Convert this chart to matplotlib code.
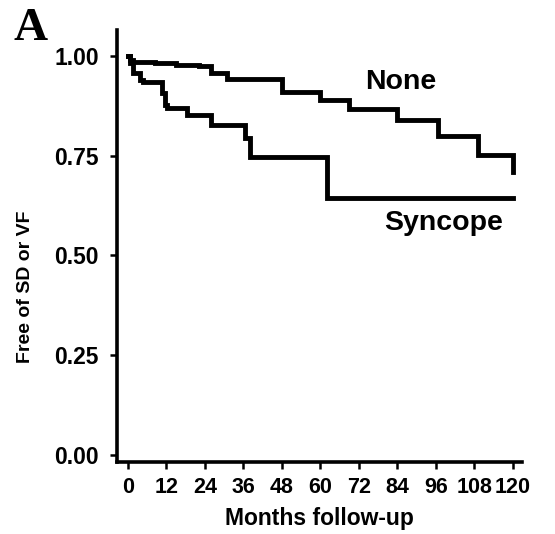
import numpy as np
import matplotlib
matplotlib.use("Agg")
import matplotlib.pyplot as plt

plt.rcParams['font.family'] = ['Liberation Sans', 'DejaVu Sans']
plt.rcParams['font.weight'] = 'bold'

# Kaplan-Meier steps (months, survival)
none_t = [0, 0.6, 1.6, 8.5, 15, 22, 26, 31, 48, 60, 69, 84, 96.5, 109, 120]
none_s = [1.0, 0.99, 0.985, 0.982, 0.977, 0.975, 0.957, 0.942, 0.910, 0.890, 0.867, 0.840, 0.800, 0.752, 0.709]

sync_t = [0, 0.6, 1.6, 3.7, 4.7, 10.6, 11.6, 12.2, 18.4, 26, 36.6, 38, 62, 120]
sync_s = [1.0, 0.982, 0.957, 0.94, 0.935, 0.907, 0.877, 0.870, 0.852, 0.827, 0.794, 0.747, 0.644, 0.644]

xticks = [0, 12, 24, 36, 48, 60, 72, 84, 96, 108, 120]
yticks = [0.00, 0.25, 0.50, 0.75, 1.00]

fig = plt.figure(figsize=(5.55, 5.34), dpi=100)
ax = fig.add_axes([0.2108, 0.1348, 0.7297, 0.809])

ax.step(none_t, none_s, where='post', color='black', lw=3.5, solid_joinstyle='miter')
ax.step(sync_t, sync_s, where='post', color='black', lw=3.5, solid_joinstyle='miter')

ax.text(85, 0.935, 'None', fontsize=20.5, fontweight='bold', ha='center', va='center')
ax.text(98.4, 0.581, 'Syncope', fontsize=20.5, fontweight='bold', ha='center', va='center')

ax.set_xlim(-3.4, 122.8)
ax.set_ylim(-0.018, 1.065)
ax.set_xticks(xticks)
ax.set_xticklabels([str(v) for v in xticks])
ax.set_yticks(yticks)
ax.set_yticklabels(['%.2f' % v for v in yticks])

for s in ['top', 'right']:
    ax.spines[s].set_visible(False)
for s in ['left', 'bottom']:
    ax.spines[s].set_linewidth(2.6)
ax.tick_params(direction='out', length=5, width=1.8, pad=6)
ax.tick_params(axis='x', labelsize=15.5)
ax.tick_params(axis='y', labelsize=16.5, pad=8)
for lab in ax.get_xticklabels() + ax.get_yticklabels():
    lab.set_fontweight('bold')

ax.set_xlabel('Months follow-up', fontsize=16.5, fontweight='bold', labelpad=6)
ax.set_ylabel('Free of SD or VF', fontsize=14, fontweight='bold')
ax.yaxis.set_label_coords(-0.205, 0.405)

fig.text(0.025, 0.985, 'A', fontsize=34, fontweight='bold', family='Liberation Serif', va='top', ha='left')

fig.savefig('out.png', dpi=100)
